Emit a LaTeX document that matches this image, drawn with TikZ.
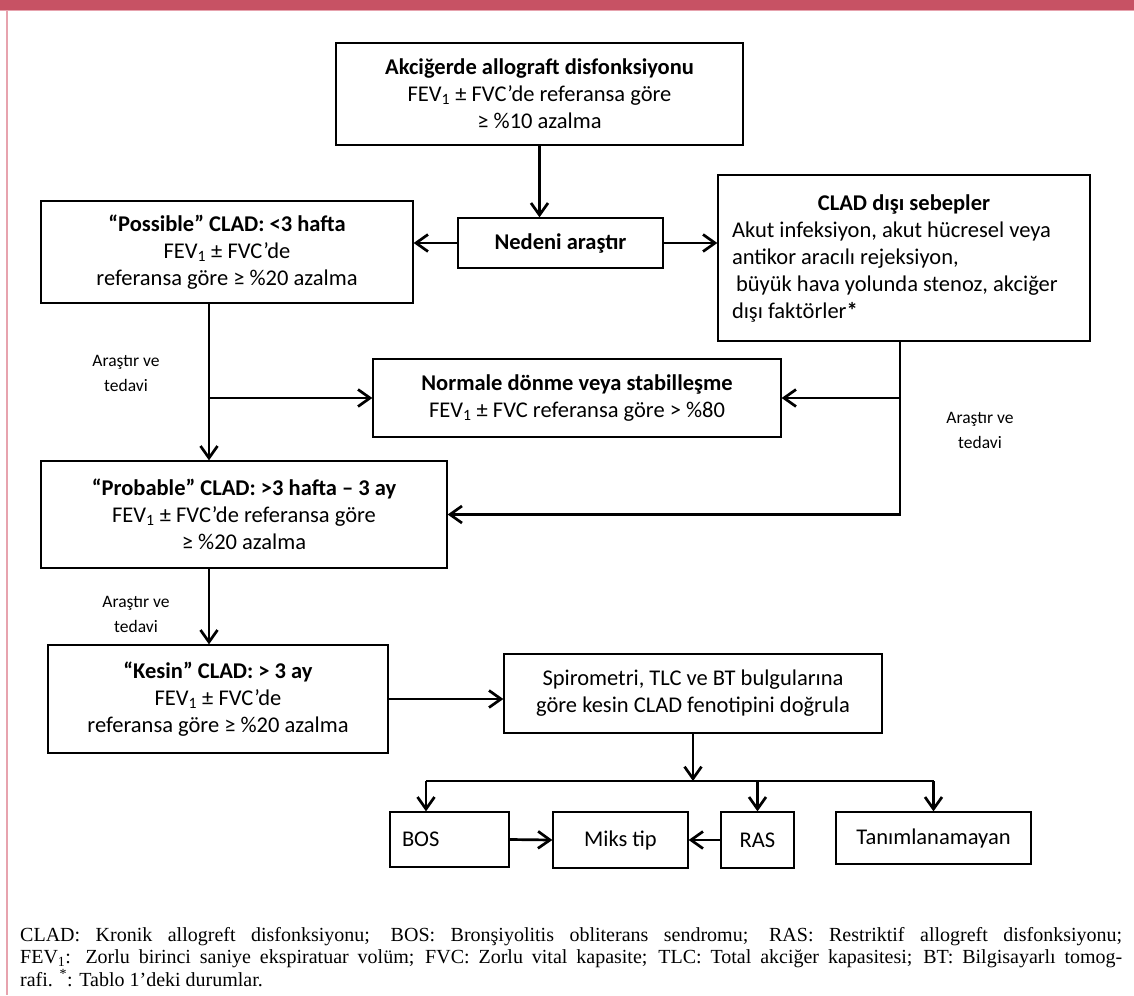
\documentclass[tikz,border=0pt]{standalone}
\usepackage{fontspec}
\setmainfont{Carlito}
\newfontfamily\footfont{Liberation Serif}
\usetikzlibrary{arrows.meta}
\definecolor{bandred}{HTML}{C75264}
\definecolor{bandpink}{HTML}{E7A3AE}
\tikzset{
  box/.style={draw=black, line width=1.3pt, fill=white, inner sep=0pt, align=center,
    font=\fontsize{22.5}{27}\selectfont},
  conn/.style={line width=2.7pt, -{Straight Barb[length=12pt,width=17pt]}},
  plain/.style={line width=2.7pt},
  lbl/.style={align=center, font=\fontsize{17.5}{25}\selectfont, inner sep=0pt},
}
\begin{document}
\begin{tikzpicture}[x=1pt,y=-1pt]
\useasboundingbox (0,0) rectangle (1134,995);
\fill[bandred] (0,0) rectangle (1134,10);
\fill[bandpink] (0,10) rectangle (1134,11);
\draw[bandpink, line width=2pt] (7,10) -- (7,995);

% boxes
\node[box, minimum width=407pt, minimum height=102pt] (top) at (539.5,94)
  {\textbf{Akciğerde allograft disfonksiyonu}\\FEV\textsubscript{1} ± FVC’de referansa göre\\≥ \%10 azalma};
\node[box, minimum width=205pt, minimum height=50pt] (ned) at (560.5,243)
  {\textbf{Nedeni araştır}};
\node[box, minimum width=372pt, minimum height=102pt] (pos) at (227,252)
  {\textbf{“Possible” CLAD: <3 hafta}\\FEV\textsubscript{1} ± FVC’de\\referansa göre ≥ \%20 azalma};
\node[box, minimum width=372pt, minimum height=166pt, align=left] (clad) at (904,258)
  {\makebox[344pt][c]{\textbf{CLAD dışı sebepler}}\\
   Akut infeksiyon, akut hücresel veya\\
   antikor aracılı rejeksiyon,\\
   \hspace*{4pt}büyük hava yolunda stenoz, akciğer\\
   dışı faktörler\textbf{*}};
\node[box, minimum width=408pt, minimum height=78pt] (nor) at (577,398)
  {\textbf{Normale dönme veya stabilleşme}\\FEV\textsubscript{1} ± FVC referansa göre > \%80};
\node[box, minimum width=406pt, minimum height=107pt] (prob) at (244,514.5)
  {\textbf{“Probable” CLAD: >3 hafta – 3 ay}\\FEV\textsubscript{1} ± FVC’de referansa göre\\≥ \%20 azalma};
\node[box, minimum width=340pt, minimum height=108pt] (kes) at (218,699)
  {\textbf{“Kesin” CLAD: > 3 ay}\\FEV\textsubscript{1} ± FVC’de\\referansa göre ≥ \%20 azalma};
\node[box, minimum width=378pt, minimum height=79pt] (spi) at (693,693.5)
  {Spirometri, TLC ve BT bulgularına\\göre kesin CLAD fenotipini doğrula};
\node[box, minimum width=119pt, minimum height=55pt] (bos) at (449.5,839.5) {\makebox[95pt][l]{BOS}};
\node[box, minimum width=135pt, minimum height=56pt] (mix) at (620.5,840) {Miks tip};
\node[box, minimum width=73pt, minimum height=56pt] (ras) at (757.5,840) {RAS};
\node[box, minimum width=195pt, minimum height=52pt] (tan) at (933.5,838) {Tanımlanamayan};

% labels
\node[lbl] (l1) at (126,373) {Araştır ve\\tedavi};
\node[lbl] (l2) at (980,430) {Araştır ve\\tedavi};
\node[lbl] (l3) at (136,614) {Araştır ve\\tedavi};

% connectors
\coordinate (lx) at (209,0);
\coordinate (rx) at (900,0);
\coordinate (bar) at (0,781);
\coordinate (bl) at (426,781);
\draw[conn] (top.south) -- (top.south |- ned.north);
\draw[conn] (ned.west) -- (ned.west -| pos.east);
\draw[conn] (ned.east) -- (ned.east -| clad.west);
\draw[conn] (pos.south -| lx) -- (prob.north -| lx);
\draw[conn] (nor.west -| lx) -- (nor.west);
\draw[conn] (clad.south -| rx) -- (rx |- prob.east) -- (prob.east);
\draw[conn] (nor.east -| rx) -- (nor.east);
\draw[conn] (prob.south -| lx) -- (kes.north -| lx);
\draw[conn] (kes.east) -- (kes.east -| spi.west);
\draw[conn] (spi.south) -- (spi.south |- bar);
\draw[plain] (bl) -- (tan.north |- bar);
\draw[conn] (bl) -- (bl |- bos.north);
\draw[conn] (ras.north |- bar) -- (ras.north);
\draw[conn] (tan.north |- bar) -- (tan.north);
\draw[conn] (bos.east) -- (mix.west);
\draw[conn] (ras.west) -- (mix.east);

% footer
\node[anchor=north west, inner sep=0pt, align=left,
      font=\footfont\fontsize{20}{22.5}\selectfont] (foot) at (20,927)
  {\hbox to 1102pt{CLAD: Kronik allogreft disfonksiyonu; BOS: Bronşiyolitis obliterans sendromu; RAS: Restriktif allogreft disfonksiyonu;}\\
   \hbox to 1102pt{FEV\textsubscript{1}: Zorlu birinci saniye ekspiratuar volüm; FVC: Zorlu vital kapasite; TLC: Total akciğer kapasitesi; BT: Bilgisayarlı tomog-}\\
   rafi. \textsuperscript{*}: Tablo 1’deki durumlar.};
\end{tikzpicture}
\end{document}
